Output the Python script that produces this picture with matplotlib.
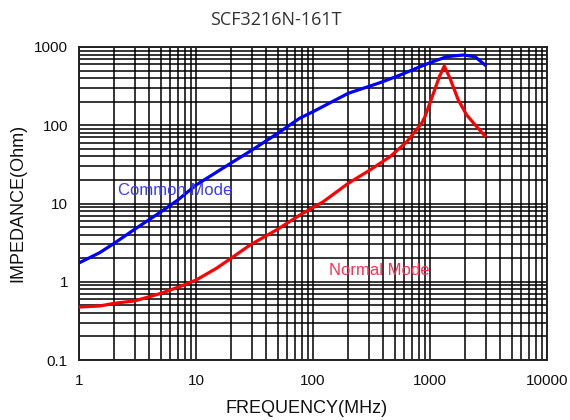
import matplotlib
matplotlib.use('Agg')
import matplotlib.pyplot as plt
from matplotlib.ticker import LogLocator, FixedLocator, NullFormatter

# data (MHz, Ohm)
cm_freq = [1, 1.5, 2, 3, 5, 7, 10, 20, 30, 50, 77, 100, 200, 374, 555, 822, 1000, 1388, 1930, 2425, 2950]
cm_imp = [1.74, 2.35, 3.1, 4.7, 7.8, 11.1, 17.2, 33, 48, 79, 123, 149, 256, 350, 438, 560, 630, 752, 790, 752, 590]

nm_freq = [1, 1.5, 2, 3, 5, 7, 10, 15, 20, 29, 50, 77, 122, 200, 307, 455, 631, 849, 906,
           1070, 1203, 1325, 1482, 1746, 2060, 2506, 2950]
nm_imp = [0.475, 0.49, 0.53, 0.57, 0.71, 0.85, 1.05, 1.49, 2.0, 2.95, 4.7, 7.1, 10.5, 18.1, 26.8, 39.6, 61, 106, 129,
          256, 417, 571, 398, 210, 135, 96, 73]

x_ticks = [1, 10, 100, 1000, 10000]
x_labels = ['1', '10', '100', '1000', '10000']
y_ticks = [0.1, 1, 10, 100, 1000]
y_labels = ['0.1', '1', '10', '100', '1000']

fig = plt.figure(figsize=(5.7, 4.2), dpi=100)
ax = fig.add_axes([79 / 570, 60 / 420, 468 / 570, 313 / 420])

ax.set_xscale('log')
ax.set_yscale('log')
ax.set_xlim(1, 10000)
ax.set_ylim(0.1, 1000)

ax.plot(cm_freq, cm_imp, color='#0000ff', lw=2.3, zorder=3)
ax.plot(nm_freq, nm_imp, color='#ff0000', lw=2.3, zorder=3)

# grid on every minor tick
ax.xaxis.set_major_locator(FixedLocator(x_ticks))
ax.yaxis.set_major_locator(FixedLocator(y_ticks))
ax.xaxis.set_minor_locator(LogLocator(base=10, subs=range(2, 10)))
ax.yaxis.set_minor_locator(LogLocator(base=10, subs=range(2, 10)))
ax.xaxis.set_minor_formatter(NullFormatter())
ax.yaxis.set_minor_formatter(NullFormatter())
ax.grid(True, which='both', color='black', lw=1.1)
ax.set_axisbelow(True)
for s in ax.spines.values():
    s.set_linewidth(1.4)
    s.set_color('#222222')

ax.set_xticks(x_ticks)
ax.set_xticklabels(x_labels, fontfamily='Liberation Sans', fontsize=11, color='#111111')
ax.set_yticks(y_ticks)
ax.set_yticklabels(y_labels, fontfamily='Liberation Sans', fontsize=11, color='#111111')
ax.tick_params(which='both', length=0)
ax.tick_params(axis='x', pad=10)
ax.tick_params(axis='y', pad=8)

ax.text(2.15, 14.5, 'Common Mode', color='#3a3aff', fontfamily='Liberation Sans', fontsize=12,
        va='center', zorder=4)
ax.text(137, 1.41, 'Normal Mode', color='#ff3050', fontfamily='Liberation Sans', fontsize=12,
        va='center', zorder=4)

fig.text(306.5 / 570, 1 - 408.5 / 420, 'FREQUENCY(MHz)', fontfamily='Liberation Sans', fontsize=13,
         ha='center', va='center', color='#111111')
fig.text(17.5 / 570, 1 - 203 / 420, 'IMPEDANCE(Ohm)', fontfamily='Liberation Sans', fontsize=13,
         ha='center', va='center', rotation=90, color='#111111')
fig.text(276 / 570, 1 - 20 / 420, 'SCF3216N-161T', fontfamily='Open Sans', fontsize=13,
         ha='center', va='center', color='#333333')

fig.savefig('out.png', dpi=100)
